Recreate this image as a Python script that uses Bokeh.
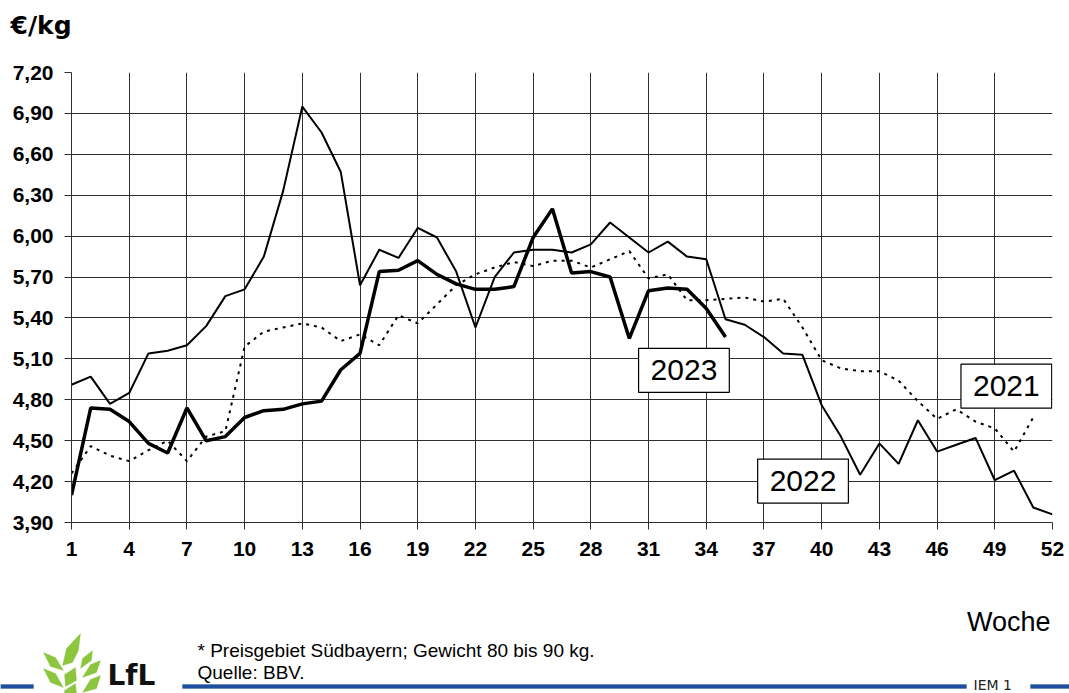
from bokeh.plotting import figure
from bokeh.layouts import column
from bokeh.models import Label, PolyAnnotation, FixedTicker, Range1d
from bokeh.embed import file_html
from bokeh.resources import INLINE

weeks_2021 = list(range(1, 52))
price_2021 = [4.26, 4.46, 4.39, 4.35, 4.43, 4.50, 4.35, 4.53, 4.57, 5.19,
              5.30, 5.33, 5.36, 5.33, 5.23, 5.28, 5.20, 5.42, 5.36, 5.50,
              5.64, 5.72, 5.77, 5.81, 5.78, 5.82, 5.82, 5.77, 5.83, 5.89,
              5.69, 5.72, 5.53, 5.53, 5.54, 5.55, 5.52, 5.54, 5.33, 5.09,
              5.03, 5.01, 5.01, 4.94, 4.79, 4.66, 4.73, 4.64, 4.59, 4.42, 4.67]
weeks_2022 = list(range(1, 53))
price_2022 = [4.91, 4.97, 4.77, 4.85, 5.14, 5.16, 5.20, 5.34, 5.56, 5.61,
              5.85, 6.33, 6.95, 6.76, 6.47, 5.64, 5.90, 5.84, 6.06, 5.99,
              5.74, 5.33, 5.70, 5.88, 5.90, 5.90, 5.88, 5.94, 6.10, 5.99,
              5.88, 5.96, 5.85, 5.83, 5.39, 5.35, 5.26, 5.14, 5.13, 4.76,
              4.53, 4.25, 4.48, 4.33, 4.65, 4.42, 4.47, 4.52, 4.21, 4.28, 4.01, 3.96]
weeks_2023 = list(range(1, 36))
price_2023 = [4.10, 4.74, 4.73, 4.64, 4.48, 4.41, 4.74, 4.50, 4.53, 4.67,
              4.72, 4.73, 4.77, 4.79, 5.02, 5.14, 5.74, 5.75, 5.82, 5.72,
              5.65, 5.61, 5.61, 5.63, 5.99, 6.20, 5.73, 5.74, 5.70, 5.25,
              5.60, 5.62, 5.61, 5.47, 5.26]

x_ticks = list(range(1, 53, 3))
y_ticks = [3.90, 4.20, 4.50, 4.80, 5.10, 5.40, 5.70, 6.00, 6.30, 6.60, 6.90, 7.20]
y_tick_labels = ["3,90", "4,20", "4,50", "4,80", "5,10", "5,40", "5,70",
                 "6,00", "6,30", "6,60", "6,90", "7,20"]

W = 1069
HEAD_H, MAIN_H, FOOT_H = 50, 550, 93
SANS = "Liberation Sans"
WIDE = "DejaVu Sans"


def blank(height, y0, y1):
    f = figure(width=W, height=height, output_backend="svg", toolbar_location=None,
               title=None, x_range=Range1d(0, W), y_range=Range1d(y1, y0),
               x_axis_type=None, y_axis_type=None, min_border=0, frame_align=False)
    f.outline_line_color = None
    f.xgrid.visible = False
    f.ygrid.visible = False
    return f


def add_text(fig, x, y, text, size, font=SANS, style="normal", align="left", color="black"):
    # y is the vertical centre of the capitals
    fig.add_layout(Label(x=x, y=y, text=text, text_font=font, text_font_size=size,
                         text_font_style=style, text_align=align, text_color=color,
                         text_baseline="middle"))


# ---------- header ----------
head = blank(HEAD_H, 0, HEAD_H)
add_text(head, 10, 25, "€/kg", "25px", font=WIDE, style="bold")

# ---------- main chart ----------
p = figure(width=W, height=MAIN_H, output_backend="svg", toolbar_location=None,
           x_range=Range1d(1, 52), y_range=Range1d(3.90, 7.20),
           min_border_left=71, min_border_right=17, min_border_top=22,
           min_border_bottom=78, frame_align=False)
p.outline_line_color = None

for ax in (p.xaxis, p.yaxis):
    ax.axis_line_color = "#303030"
    ax.major_tick_line_color = "#303030"
    ax.major_tick_out = 7
    ax.major_tick_in = 0
    ax.minor_tick_line_color = None
    ax.major_label_text_font = SANS
    ax.major_label_text_font_style = "bold"
    ax.major_label_text_font_size = "21px"
    ax.major_label_text_color = "black"

p.xaxis.ticker = FixedTicker(ticks=x_ticks)
p.yaxis.ticker = FixedTicker(ticks=y_ticks)
p.yaxis.major_label_overrides = {v: s for v, s in zip(y_ticks, y_tick_labels)}
p.xaxis.major_label_standoff = 12
p.yaxis.major_label_standoff = 11

p.xgrid.ticker = FixedTicker(ticks=x_ticks)
p.ygrid.ticker = FixedTicker(ticks=y_ticks)
for g in (p.xgrid, p.ygrid):
    g.grid_line_color = "#303030"
    g.grid_line_width = 1

p.line(weeks_2021, price_2021, line_color="black", line_width=2, line_dash="3 5")
p.line(weeks_2022, price_2022, line_color="black", line_width=2)
p.line(weeks_2023, price_2023, line_color="black", line_width=3.5)

for txt, xx, yy in (("2023", 32.84, 5.015), ("2022", 39.03, 4.204), ("2021", 49.60, 4.90)):
    p.add_layout(Label(x=xx, y=yy, text=txt, text_font=SANS, text_font_size="30px",
                       text_align="center", text_baseline="middle", text_color="black",
                       background_fill_color="white", border_line_color="black",
                       border_line_width=1.2, padding=12))

# ---------- footer (coordinates = page pixels) ----------
Y0 = HEAD_H + MAIN_H
foot = blank(FOOT_H, Y0, Y0 + FOOT_H)


def fpoly(pts, color):
    foot.add_layout(PolyAnnotation(xs=[a for a, b in pts], ys=[b for a, b in pts],
                                   fill_color=color, fill_alpha=1, line_color=color,
                                   line_width=1))


add_text(foot, 1050, 621, "Woche", "27px", align="right")
add_text(foot, 197, 650, "* Preisgebiet Südbayern; Gewicht 80 bis 90 kg.", "19px")
add_text(foot, 197, 671.5, "Quelle: BBV.", "19px")
add_text(foot, 107, 675, "LfL", "28px", font=WIDE, style="bold", color="#111111")
add_text(foot, 973, 684, "IEM 1", "14px", font=WIDE, color="#222222")

BLUE = "#1f4ea0"
fpoly([(0, 684), (33, 684), (33, 688), (0, 688)], BLUE)
fpoly([(182, 684), (966, 684), (966, 688), (182, 688)], BLUE)
fpoly([(1030, 684), (1069, 684), (1069, 688), (1030, 688)], BLUE)

GREEN = "#8cc63f"
leaves = [
    [(62, 665), (66, 648), (80, 633), (78, 650), (72, 662)],
    [(80, 668), (82, 658), (92, 650), (91, 660)],
    [(43, 652), (55, 657), (63, 670), (50, 666)],
    [(43, 668), (55, 673), (63, 687), (50, 682)],
    [(100, 660), (90, 664), (82, 677), (96, 672)],
    [(100, 675), (90, 679), (82, 692), (96, 688)],
    [(64, 674), (75, 667), (76, 680), (65, 686)],
    [(64, 690), (75, 683), (76, 693), (64, 693)],
]
for lf in leaves:
    fpoly(lf, GREEN)

layout = column(head, p, foot, spacing=0)
open("out.html", "w").write(file_html(layout, INLINE))
